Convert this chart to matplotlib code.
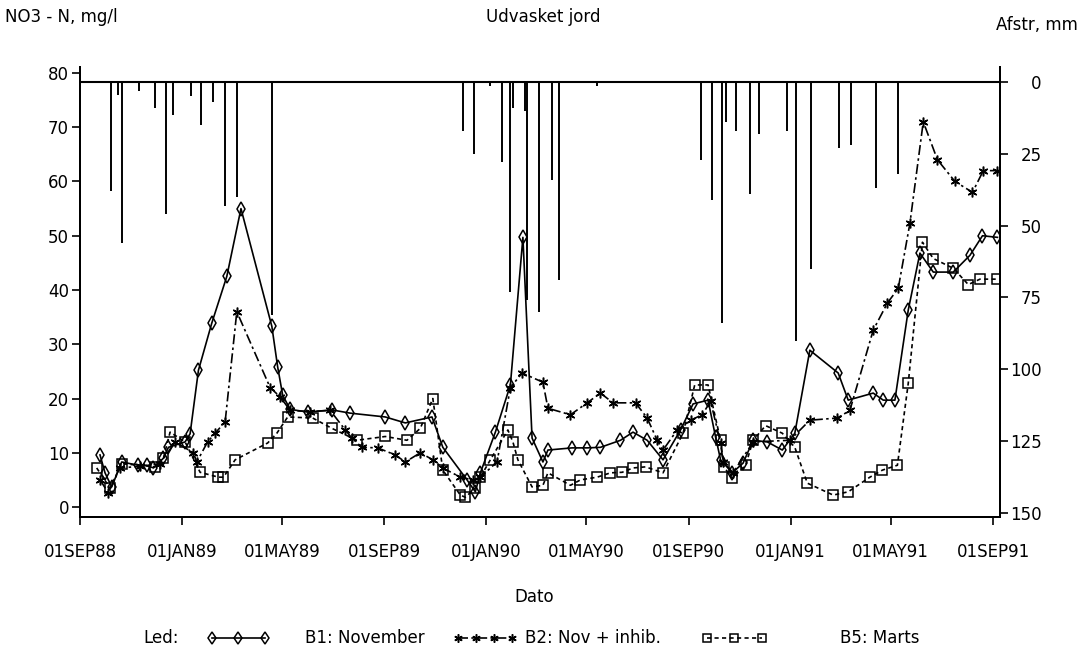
import pandas as pd
import matplotlib.pyplot as plt
from matplotlib.lines import Line2D

plt.rcParams['font.family'] = ['DejaVu Sans']

# ====================== DATA ======================
# B1: November
b1_dates = [
    '1988-09-25', '1988-10-01', '1988-10-09', '1988-10-21', '1988-11-10',
    '1988-11-20', '1988-11-28', '1988-12-10', '1988-12-16', '1989-01-05',
    '1989-01-11', '1989-01-21', '1989-02-06', '1989-02-24', '1989-03-13',
    '1989-04-19', '1989-04-26', '1989-05-02', '1989-05-11', '1989-06-01',
    '1989-06-30', '1989-07-22', '1989-09-02', '1989-09-26', '1989-10-28',
    '1989-11-10', '1989-12-09', '1989-12-19', '1989-12-25', '1990-01-12',
    '1990-01-30', '1990-02-14', '1990-02-25', '1990-03-10', '1990-03-16',
    '1990-04-14', '1990-05-02', '1990-05-18', '1990-06-11', '1990-06-26',
    '1990-07-13', '1990-08-01', '1990-08-22', '1990-09-06', '1990-09-24',
    '1990-10-03', '1990-10-09', '1990-10-23', '1990-11-05', '1990-11-17',
    '1990-12-04', '1990-12-22', '1991-01-06', '1991-01-24', '1991-02-27',
    '1991-03-11', '1991-04-10', '1991-04-22', '1991-05-06', '1991-05-22',
    '1991-06-05', '1991-06-21', '1991-07-15', '1991-08-04', '1991-08-19',
    '1991-09-06',
]
b1_values = [
    9.6, 6.3, 3.7, 8.3, 7.7,
    7.7, 7.2, 9.0, 11.0, 12.0,
    13.5, 25.2, 33.9, 42.5, 55.0,
    33.3, 25.8, 20.6, 18.0, 17.5,
    17.9, 17.3, 16.6, 15.5, 16.6,
    11.0, 5.0, 2.8, 6.3, 13.8,
    22.5, 49.7, 12.7, 8.3, 10.5,
    10.9, 10.9, 11.0, 12.3, 13.8,
    12.3, 8.7, 14.2, 19.0, 19.7,
    12.9, 8.7, 6.3, 8.1, 12.3,
    12.0, 10.5, 13.6, 28.9, 24.7,
    19.7, 21.0, 19.7, 19.7, 36.3,
    46.8, 43.3, 43.3, 46.4, 50.0,
    49.7,
]

# B2: Nov + inhib.
b2_dates = [
    '1988-09-25', '1988-10-05', '1988-10-19', '1988-11-12', '1988-12-06',
    '1988-12-24', '1989-01-15', '1989-01-19', '1989-02-01', '1989-02-10',
    '1989-02-22', '1989-03-08', '1989-04-17', '1989-04-29', '1989-05-11',
    '1989-06-04', '1989-06-28', '1989-07-16', '1989-07-24', '1989-08-05',
    '1989-08-24', '1989-09-14', '1989-09-26', '1989-10-14', '1989-10-29',
    '1989-11-10', '1989-12-01', '1989-12-16', '1989-12-25', '1990-01-14',
    '1990-01-30', '1990-02-13', '1990-03-10', '1990-03-16', '1990-04-12',
    '1990-05-02', '1990-05-18', '1990-06-02', '1990-06-29', '1990-07-13',
    '1990-07-25', '1990-08-01', '1990-08-18', '1990-09-03', '1990-09-17',
    '1990-09-27', '1990-10-09', '1990-10-12', '1990-10-24', '1990-11-17',
    '1990-12-31', '1991-01-24', '1991-02-26', '1991-03-13', '1991-04-10',
    '1991-04-27', '1991-05-10', '1991-05-24', '1991-06-09', '1991-06-26',
    '1991-07-17', '1991-08-07', '1991-08-20', '1991-09-06',
]
b2_values = [
    5.0, 2.6, 7.2, 7.5, 8.0,
    12.0, 10.0, 8.3, 12.0, 13.6,
    15.7, 36.0, 22.0, 20.3, 17.8,
    17.6, 17.8, 14.2, 12.7, 11.0,
    10.9, 9.6, 8.3, 10.0, 8.7,
    7.2, 5.5, 5.0, 5.5, 8.3,
    22.0, 24.7, 23.0, 18.2, 17.0,
    19.2, 21.0, 19.2, 19.2, 16.4,
    12.3, 10.5, 14.2, 16.0, 17.0,
    19.5, 11.8, 8.3, 6.3, 12.0,
    12.3, 16.0, 16.4, 17.8, 32.6,
    37.6, 40.3, 52.3, 71.0, 64.0,
    60.0, 58.0, 62.0, 62.0,
]

# B5: Marts
b5_dates = [
    '1988-09-21', '1988-10-07', '1988-10-21', '1988-11-30', '1988-12-10',
    '1988-12-18', '1989-01-05', '1989-01-23', '1989-02-14', '1989-02-20',
    '1989-03-06', '1989-04-14', '1989-04-25', '1989-05-08', '1989-06-07',
    '1989-06-30', '1989-07-30', '1989-09-02', '1989-09-28', '1989-10-14',
    '1989-10-29', '1989-11-10', '1989-12-01', '1989-12-07', '1989-12-19',
    '1989-12-25', '1990-01-06', '1990-01-27', '1990-02-02', '1990-02-08',
    '1990-02-25', '1990-03-10', '1990-03-16', '1990-04-12', '1990-04-24',
    '1990-05-14', '1990-05-30', '1990-06-13', '1990-06-26', '1990-07-11',
    '1990-08-01', '1990-08-25', '1990-09-08', '1990-09-24', '1990-10-09',
    '1990-10-13', '1990-10-23', '1990-11-08', '1990-11-17', '1990-12-02',
    '1990-12-22', '1991-01-06', '1991-01-21', '1991-02-21', '1991-03-11',
    '1991-04-06', '1991-04-21', '1991-05-09', '1991-05-22', '1991-06-08',
    '1991-06-21', '1991-07-15', '1991-08-02', '1991-08-16', '1991-09-06',
]
b5_values = [
    7.2, 3.5, 8.0, 7.4, 9.0,
    13.8, 12.0, 6.4, 5.5, 5.5,
    8.7, 11.8, 13.6, 16.6, 16.4,
    14.5, 12.3, 13.0, 12.3, 14.5,
    20.0, 6.8, 2.2, 1.8, 3.5,
    5.5, 8.7, 14.2, 12.0, 8.7,
    3.7, 4.0, 6.3, 4.0, 5.0,
    5.5, 6.3, 6.4, 7.2, 7.4,
    6.3, 13.6, 22.5, 22.5, 12.3,
    7.4, 5.3, 7.7, 12.3, 15.0,
    13.6, 11.0, 4.4, 2.2, 2.8,
    5.5, 6.8, 7.7, 22.8, 48.8,
    45.8, 44.0, 41.0, 42.0, 42.0,
]

# Afstroemning (mm), drawn as needles hanging from the top
rain_dates = [
    '1988-10-08', '1988-10-17', '1988-10-21', '1988-11-11', '1988-11-30',
    '1988-12-13', '1988-12-21', '1989-01-12', '1989-01-24', '1989-02-07',
    '1989-02-22', '1989-03-08', '1989-04-19',
    '1989-12-04', '1989-12-17', '1990-01-06', '1990-01-20', '1990-01-29',
    '1990-02-02', '1990-02-17', '1990-02-19', '1990-03-05', '1990-03-21',
    '1990-03-29', '1990-05-14',
    '1990-09-16', '1990-09-29', '1990-10-11', '1990-10-15', '1990-10-28',
    '1990-11-13', '1990-11-24', '1990-12-28', '1991-01-08', '1991-01-26',
    '1991-02-28', '1991-03-14', '1991-04-13', '1991-05-10',
]
rain_mm = [
    38, 4.5, 56, 3, 9,
    46, 11.5, 5, 15, 7,
    43, 40, 81,
    17, 25, 1.5, 28, 73,
    9, 10, 76, 80, 34,
    69, 1.5,
    27, 41, 84, 14, 17,
    39, 18, 17, 90, 65,
    23, 22, 37, 32,
]

tick_dates = ['1988-09-01', '1989-01-01', '1989-05-01', '1989-09-01', '1990-01-01',
              '1990-05-01', '1990-09-01', '1991-01-01', '1991-05-01', '1991-09-01']
tick_labels = ['01SEP88', '01JAN89', '01MAY89', '01SEP89', '01JAN90',
               '01MAY90', '01SEP90', '01JAN91', '01MAY91', '01SEP91']

mm_ticks = [0, 25, 50, 75, 100, 125, 150]

# ====================== FIGURE ======================
fig = plt.figure(figsize=(10.83, 6.55), dpi=100)
W, H = 1083, 655
ax = fig.add_axes([80 / W, 1 - 517 / H, 920 / W, 450 / H])
ax2 = ax.twinx()

# needles for runoff on the inverted right axis
ax2.vlines(pd.to_datetime(rain_dates), 0, rain_mm, color='black', lw=1.4)
ax2.axhline(0, color='black', lw=1.5)
ax2.set_ylim(151.4, -5.2)
ax2.set_yticks(mm_ticks, labels=[str(t) for t in mm_ticks])

line_kw = dict(color='black', lw=1.2, mfc='none', mec='black', mew=1.1)
ax.plot(pd.to_datetime(b1_dates), b1_values, ls='-', marker='d', ms=7, **line_kw)
ax.plot(pd.to_datetime(b2_dates), b2_values, ls=(0, (6, 2, 1.5, 2)),
        marker=(6, 2, 0), ms=7, **line_kw)
ax.plot(pd.to_datetime(b5_dates), b5_values, ls=(0, (2.5, 2)), marker='s', ms=7, **line_kw)

ax.set_ylim(-1.84, 81.1)
ax.set_yticks(range(0, 81, 10))
ax.set_xlim(pd.Timestamp('1988-09-01'), pd.Timestamp('1991-09-09'))
ax.set_xticks(pd.to_datetime(tick_dates))
ax.set_xticklabels(tick_labels)

for a in (ax, ax2):
    a.spines['top'].set_visible(False)
    for s in a.spines.values():
        s.set_linewidth(1.4)

ax.tick_params(axis='x', length=6, width=1.2, pad=13, labelsize=12)
ax.tick_params(axis='y', length=6, width=1.2, pad=2, labelsize=12)
ax2.tick_params(axis='y', length=6, width=1.2, pad=24, labelsize=12)

# right-hand labels are right-aligned a little away from the spine
fig.canvas.draw()
for lab in ax2.yaxis.get_ticklabels():
    lab.set_horizontalalignment('right')

# ====================== TEXTS ======================
fig.text(5 / W, 1 - 17 / H, 'NO3 - N, mg/l', fontsize=12, ha='left', va='center')
fig.text(543 / W, 1 - 17 / H, 'Udvasket jord', fontsize=12, ha='center', va='center')
fig.text(1078 / W, 1 - 25 / H, 'Afstr, mm', fontsize=12, ha='right', va='center')
fig.text(534 / W, 1 - 597 / H, 'Dato', fontsize=12, ha='center', va='center')

# ====================== LEGEND ======================
ly = 1 - 638 / H
fig.text(143 / W, ly, 'Led:', fontsize=12, ha='left', va='center')

samples = [
    ([212, 238, 265], '-', 'd', 305, 'B1: November'),
    ([458, 476, 494, 512], (0, (6, 2, 1.5, 2)), (6, 2, 0), 525, 'B2: Nov + inhib.'),
    ([707, 734, 762], (0, (2.5, 2)), 's', 840, 'B5: Marts'),
]
for xs, ls, mk, tx, label in samples:
    fig.add_artist(Line2D([x / W for x in xs], [ly] * len(xs), transform=fig.transFigure,
                          ls=ls, marker=mk, ms=6, **line_kw))
    fig.text(tx / W, ly, label, fontsize=12, ha='left', va='center')

fig.savefig('out.png', dpi=100)
